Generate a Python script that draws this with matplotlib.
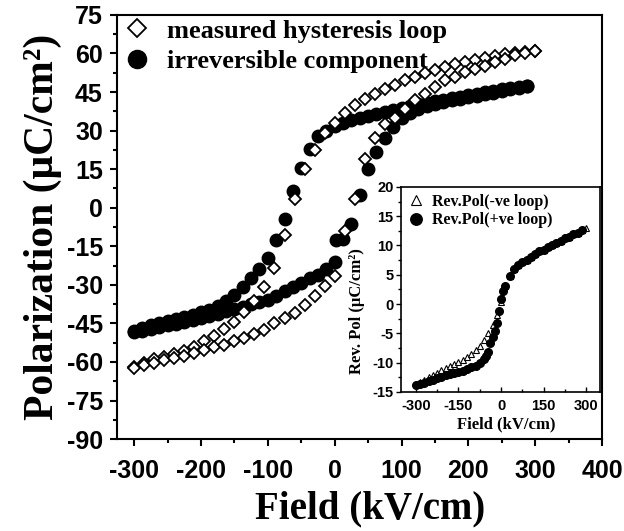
import numpy as np
import matplotlib
matplotlib.use("Agg")
import matplotlib.pyplot as plt
from matplotlib.ticker import MultipleLocator

plt.rcParams['axes.unicode_minus'] = False

# ---- main plot data: measured loop (diamonds) ----
# upper branch, field going from +300 down to -300
meas_up_E = [300, 285, 270, 255, 240, 225, 210, 195, 180, 165, 150, 135, 120, 105,
             90, 75, 60, 45, 30, 15, 0, -15, -30, -45, -60, -75, -90, -105, -120,
             -135, -150, -165, -180, -195, -210, -225, -240, -255, -270, -285, -300]
meas_up_P = [61, 60.6, 60.2, 59.6, 58.9, 58.2, 57.5, 56.6, 55.7, 54.8, 53.7, 52.4, 51.0, 49.5,
             47.9, 46.1, 44.1, 42.2, 40.0, 37.0, 33.0, 29.0, 22.5, 15.0, 3.5, -10.5, -23.5, -31.0, -36.3,
             -40.6, -44.3, -47.2, -49.8, -52.0, -54.0, -55.6, -56.8, -57.9, -59.0, -60.3, -62.0]
# lower branch, field going from -300 up to +300
meas_dn_E = [-300, -285, -270, -255, -240, -225, -210, -195, -180, -165, -150, -135, -120, -105,
             -90, -75, -60, -45, -30, -15, 0, 15, 30, 45, 60, 75, 90, 105, 120,
             135, 150, 165, 180, 195, 210, 225, 240, 255, 270, 285, 300]
meas_dn_P = [-62.5, -61.2, -60.2, -59.2, -58.4, -57.5, -56.4, -55.2, -54.2, -53.3, -52.0, -50.5, -49.2, -47.5,
             -45.0, -43.0, -40.8, -38.0, -34.5, -30.5, -26.5, -9.0, 3.5, 19.0, 27.0, 32.5, 35.0, 38.5, 42.0,
             44.3, 47.0, 49.7, 51.0, 52.7, 54.0, 55.2, 56.6, 57.9, 59.2, 60.2, 61.0]

# ---- irreversible component (filled circles) ----
irr_up_E = [287.5, 275, 262.5, 250, 237.5, 225, 212.5, 200, 187.5, 175, 162.5, 150, 137.5, 125,
            112.5, 100, 87.5, 75, 62.5, 50, 37.5, 25, 12.5, 0, -12.5, -25, -37.5, -50, -62.5,
            -75, -87.5, -100, -112.5, -125, -137.5, -150, -162.5, -175, -187.5, -200, -212.5,
            -225, -237.5, -250, -262.5, -275, -287.5, -300]
irr_up_P = [47.5, 47.0, 46.5, 46.0, 45.5, 45.0, 44.4, 43.8, 43.2, 42.6, 42.0, 41.4, 40.8, 40.2,
            39.5, 38.8, 38.1, 37.3, 36.5, 35.7, 34.9, 34.0, 33.0, 31.8, 30.0, 28.0, 23.0, 15.5, 6.5,
            -4.5, -12.5, -19.5, -24.0, -27.5, -30.8, -33.8, -36.3, -38.3, -39.6, -40.7, -41.6,
            -42.5, -43.4, -44.2, -45.0, -45.8, -46.7, -47.8]
irr_dn_E = [-300, -287.5, -275, -262.5, -250, -237.5, -225, -212.5, -200, -187.5, -175, -162.5,
            -150, -137.5, -125, -112.5, -100, -87.5, -75, -62.5, -50, -37.5, -25, -12.5, 0, 2,
            12.5, 25, 37.5, 50, 62.5, 75, 87.5, 100, 112.5, 125, 137.5, 150, 162.5, 175, 187.5,
            200, 212.5, 225, 237.5, 250, 262.5, 275, 287.5]
irr_dn_P = [-48.3, -47.8, -47.2, -46.5, -45.8, -45.2, -44.5, -43.6, -42.8, -42.0, -41.2, -40.2,
            -39.3, -38.5, -37.6, -36.7, -35.8, -34.3, -32.5, -31.0, -29.3, -27.5, -26.0, -24.0, -21.0, -12.5,
            -12.0, -6.5, 5.0, 15.0, 21.5, 27.0, 31.5, 35.0, 37.0, 38.2, 39.5, 40.5, 41.2, 41.8, 42.3,
            43.0, 43.6, 44.2, 44.8, 45.4, 46.0, 46.6, 47.2]

# ---- inset: reversible polarization ----
rev_neg_E = [-300, -285, -270, -255, -240, -225, -210, -195, -180, -165, -150, -135, -120, -105,
             -90, -75, -60, -45, -30, -15, 0, 15, 30, 45, 60, 75, 90, 105, 120, 135,
             150, 165, 180, 195, 210, 225, 240, 255, 270, 285, 300]
rev_neg_P = [-13.7, -13.3, -12.9, -12.5, -12.1, -11.7, -11.3, -10.9, -10.6, -10.3, -9.9, -9.5, -9.0, -8.5,
             -7.9, -7.2, -6.2, -5.0, -3.6, -1.8, 0.3, 3.0, 4.8, 5.9, 6.7, 7.1, 7.6, 8.1, 8.6, 9.0,
             9.3, 9.7, 10.1, 10.5, 10.8, 11.2, 11.5, 11.9, 12.2, 12.6, 12.9]
rev_pos_E = [-300, -285, -270, -255, -240, -225, -210, -195, -180, -165, -150, -135, -120, -105,
             -90, -75, -60, -52.5, -45, -37.5, -30, -22.5, -15, -7.5, 0, 7.5, 15, 30, 45, 60, 75,
             90, 105, 120, 135, 150, 165, 180, 195, 210, 225, 240, 255, 270, 285]
rev_pos_P = [-13.9, -13.6, -13.4, -13.1, -12.9, -12.7, -12.5, -12.2, -12.0, -11.8, -11.6, -11.4, -11.1, -10.8,
             -10.5, -10.1, -9.4, -8.9, -8.2, -6.6, -5.6, -4.6, -3.3, -1.2, 0.8, 2.2, 3.0, 4.8, 5.9, 6.7, 7.1,
             7.6, 8.1, 8.6, 9.0, 9.3, 9.7, 10.1, 10.5, 10.8, 11.2, 11.5, 11.9, 12.2, 12.6]

serif = "Liberation Serif"
sans = "Liberation Sans"

fig = plt.figure(figsize=(6.24, 5.31), dpi=100)
ax = fig.add_axes([0.187, 0.173, 0.778, 0.799])

# circles first, diamonds on top
ax.plot(irr_up_E, irr_up_P, 'o', color='black', ms=9, mec='black', label='irreversible component', zorder=2)
ax.plot(irr_dn_E, irr_dn_P, 'o', color='black', ms=9, mec='black', zorder=2)
ax.plot(meas_up_E, meas_up_P, 'D', mfc='white', mec='black', ms=6.4, mew=1.3,
        label='measured hysteresis loop', zorder=3)
ax.plot(meas_dn_E, meas_dn_P, 'D', mfc='white', mec='black', ms=6.4, mew=1.3, zorder=3)

ax.set_xlim(-326, 400)
ax.set_ylim(-90, 75)
ax.xaxis.set_major_locator(MultipleLocator(100))
ax.xaxis.set_minor_locator(MultipleLocator(50))
ax.yaxis.set_major_locator(MultipleLocator(15))
ax.yaxis.set_minor_locator(MultipleLocator(7.5))
ax.tick_params(which='both', direction='out', top=False, right=False, width=1.5)
ax.tick_params(which='major', length=5)
ax.tick_params(which='minor', length=3)
ax.tick_params(axis='y', pad=5)
ax.tick_params(axis='x', pad=9)
for lab in ax.get_xticklabels() + ax.get_yticklabels():
    lab.set_fontfamily(sans)
    lab.set_fontweight('bold')
    lab.set_fontsize(18)
for sp in ax.spines.values():
    sp.set_linewidth(1.5)

ax.set_xlabel('Field (kV/cm)', fontfamily=serif, fontweight='bold', fontsize=28, labelpad=6)
ax.xaxis.label.set_x(0.522)
ax.set_ylabel('Polarization (μC/cm²)', fontfamily=serif, fontweight='bold', fontsize=30)
ax.yaxis.set_label_coords(-0.113, 0.5)

h, l = ax.get_legend_handles_labels()
ax.legend(h[::-1], l[::-1], loc='upper left', bbox_to_anchor=(0.014, 0.99), frameon=False,
          prop={'family': serif, 'weight': 'bold', 'size': 19}, handlelength=1.0,
          handletextpad=0.64, borderpad=0, borderaxespad=0, labelspacing=0.27, markerscale=1.45)

# ---- inset ----
ins = fig.add_axes([0.643, 0.262, 0.318, 0.386])
ins.plot(rev_neg_E, rev_neg_P, '^', mfc='white', mec='black', ms=5, mew=0.8,
         label='Rev.Pol(-ve loop)', zorder=2)
ins.plot(rev_pos_E, rev_pos_P, 'o', color='black', ms=5.5, label='Rev.Pol(+ve loop)', zorder=3)
ins.set_xlim(-352, 348)
ins.set_ylim(-15, 20)
ins.xaxis.set_major_locator(MultipleLocator(150))
ins.xaxis.set_minor_locator(MultipleLocator(75))
ins.yaxis.set_major_locator(MultipleLocator(5))
ins.yaxis.set_minor_locator(MultipleLocator(2.5))
ins.tick_params(axis='y', which='both', direction='out', right=False, width=1.0, pad=2)
ins.tick_params(axis='x', which='both', direction='in', top=False, width=1.0, pad=5)
ins.tick_params(which='major', length=3.5)
ins.tick_params(which='minor', length=2)
for lab in ins.get_xticklabels() + ins.get_yticklabels():
    lab.set_fontfamily(sans)
    lab.set_fontweight('bold')
    lab.set_fontsize(10.5)
for sp in ins.spines.values():
    sp.set_linewidth(1.2)
ins.set_xlabel('Field (kV/cm)', fontfamily=serif, fontweight='bold', fontsize=12)
ins.xaxis.set_label_coords(0.53, -0.12)
ins.set_ylabel('Rev. Pol (μC/cm²)', fontfamily=serif, fontweight='bold', fontsize=12)
ins.yaxis.set_label_coords(-0.185, 0.395)
ins.legend(loc='upper left', bbox_to_anchor=(0.035, 0.965), frameon=False,
           prop={'family': serif, 'weight': 'bold', 'size': 11.5}, handlelength=1.0,
           handletextpad=0.5, borderpad=0, borderaxespad=0, labelspacing=0.15, markerscale=1.5)

fig.savefig('out.png', dpi=100)
